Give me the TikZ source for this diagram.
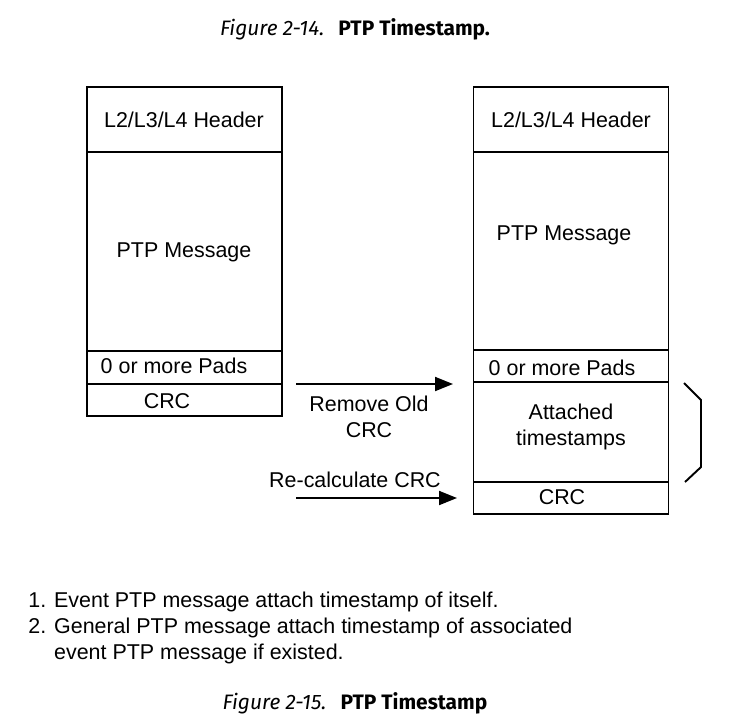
\documentclass[tikz,border=0pt]{standalone}
\usepackage{fontspec}
\setmainfont{Liberation Sans}
\newfontfamily\capfont{Fira Sans}
\usetikzlibrary{positioning,arrows.meta,calc}
\tikzset{
  fld/.style={rectangle, draw, line width=1.1pt, minimum width=3.9cm, inner sep=0pt, outer sep=0pt},
  txt/.style={font=\fontsize{12.2}{14.8}\selectfont, inner sep=0pt, align=center},
  mv/.style={-{Triangle[length=3.6mm,width=2.8mm]}, line width=1.1pt},
  figcap/.style={font=\capfont\fontsize{11.9}{14}\selectfont, inner sep=0pt}
}
\begin{document}
\begin{tikzpicture}[x=0.02cm, y=-0.02cm]
\useasboundingbox (0,0) rectangle (742,724);
\node[figcap] (fig1) at (355,29) {\itshape Figure 2-14.\hskip 8pt\upshape\bfseries PTP Timestamp.};
% frame before
\node[fld, minimum height=1.3cm] (lhdr) at (184.5,119.5) {};
\node[fld, minimum height=3.98cm, below=0pt of lhdr] (lmsg) {};
\node[fld, minimum height=0.66cm, below=0pt of lmsg] (lpad) {};
\node[fld, minimum height=0.64cm, below=0pt of lpad] (lcrc) {};
\node[txt] at (184,120) {L2/L3/L4 Header};
\node[txt] at (184,252) {PTP Message};
\node[txt] at (174,366) {0 or more Pads};
\node[txt] at (167,401) {CRC};
% frame after
\node[fld, minimum height=1.3cm] (rhdr) at (571,119.5) {};
\node[fld, minimum height=3.96cm, below=0pt of rhdr] (rmsg) {};
\node[fld, minimum height=0.64cm, below=0pt of rmsg] (rpad) {};
\node[fld, minimum height=2.0cm, below=0pt of rpad] (rts) {};
\node[fld, minimum height=0.64cm, below=0pt of rts] (rcrc) {};
\node[txt] at (571,120) {L2/L3/L4 Header};
\node[txt] at (564,235) {PTP Message};
\node[txt] at (562,368) {0 or more Pads};
\node[txt] at (571,427) {Attached\\timestamps};
\node[txt] at (562,497) {CRC};
% arrows
\coordinate (rmA) at (296,384);
\coordinate (rmB) at (453,384);
\coordinate (rcA) at (296,498);
\coordinate (rcB) at (457,498);
\draw[mv] (rmA) -- (rmB);
\draw[mv] (rcA) -- (rcB);
\node[txt] (rmlbl) at (369,417) {Remove Old\\CRC};
\node[txt] (rclbl) at (355,480) {Re-calculate CRC};
% brace
\draw[line width=1.1pt] (684,383) -- (701,400) -- (701,467) -- (685,482);
% notes
\node[txt, align=left, anchor=base west] (notes) at (28,659) {1. Event PTP message attach timestamp of itself.\\2. General PTP message attach timestamp of associated\\\phantom{2. }event PTP message if existed.};
\node[figcap] (fig2) at (355,703) {\itshape Figure 2-15.\hskip 8pt\upshape\bfseries PTP Timestamp};
\end{tikzpicture}
\end{document}
